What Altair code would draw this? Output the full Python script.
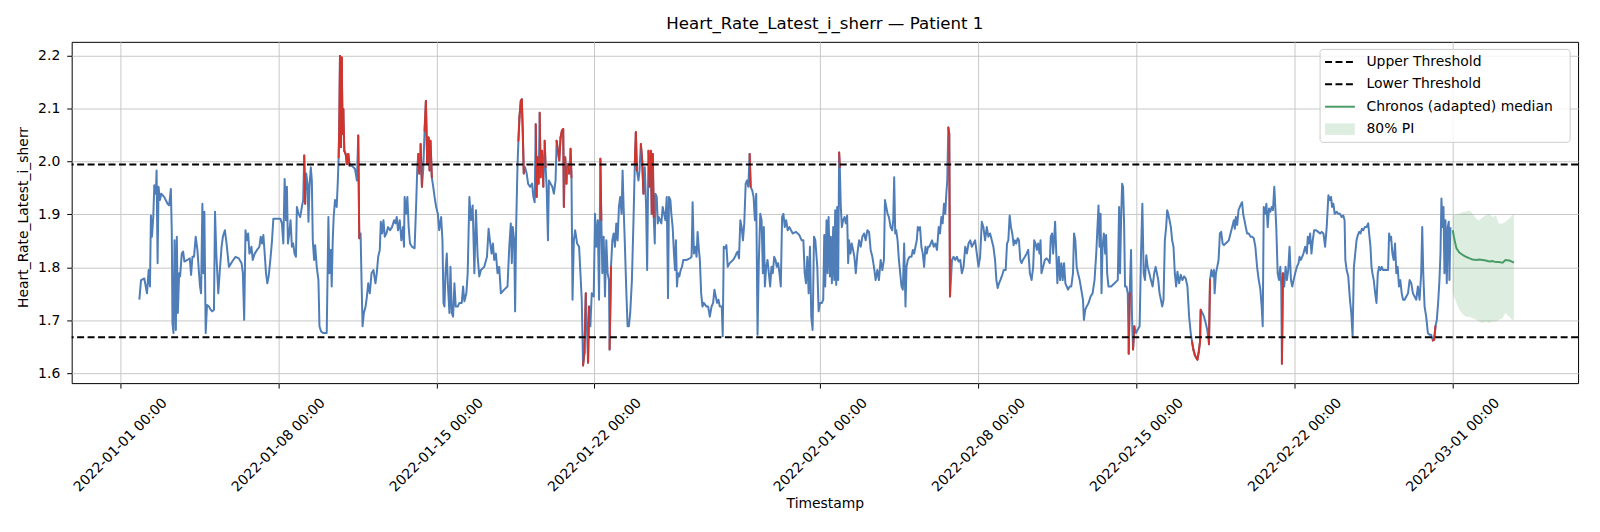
import altair as alt
import pandas as pd

FONT = "DejaVu Sans"
START = "2022-01-01 00:00:00"
title_text = "Heart_Rate_Latest_i_sherr \u2014 Patient 1"
x_title = "Timestamp"
y_title = "Heart_Rate_Latest_i_sherr"

# ---- observed series: hours since 2022-01-01 00:00 and values, read window by window ----
h_w1 = [20.4, 22.2, 25.7, 28.5, 30.3, 31.7, 32.7, 33.8, 35.2, 36.3, 38.0, 38.7, 39.8, 40.8, 42.3, 43.7, 46.8, 50.4, 52.1, 53.9, 54.9, 55.6, 56.7, 57.8, 59.2, 60.2, 61.3, 62.7, 63.7, 65.5, 66.9, 68.3, 71.5, 74.0, 75.4, 76.8, 78.5, 80.3, 82.1, 83.8, 84.9, 86.0, 87.4, 88.4, 89.5, 90.9, 92.3, 94.4, 96.2, 97.9, 99.7, 100.8, 102.2, 104.3, 105.7, 107.8, 109.2, 111.3, 113.1, 115.6, 119.1, 122.6, 126.1, 129.0, 130.4, 131.8, 133.2, 134.6, 136.0, 137.4, 139.5, 140.9, 143.0, 145.5, 148.0, 149.4, 150.8, 152.2, 153.6, 155.0, 156.4, 157.8, 159.6, 161.4, 162.8, 164.9]
v_w1 = [1.739, 1.776, 1.779, 1.751, 1.795, 1.764, 1.898, 1.858, 1.895, 1.955, 1.939, 1.983, 1.808, 1.952, 1.927, 1.939, 1.933, 1.920, 1.917, 1.948, 1.864, 1.695, 1.676, 1.851, 1.682, 1.858, 1.714, 1.789, 1.783, 1.826, 1.830, 1.811, 1.814, 1.817, 1.786, 1.820, 1.820, 1.858, 1.833, 1.789, 1.764, 1.751, 1.920, 1.789, 1.905, 1.676, 1.729, 1.726, 1.720, 1.717, 1.720, 1.905, 1.826, 1.751, 1.789, 1.839, 1.858, 1.870, 1.845, 1.801, 1.811, 1.820, 1.817, 1.808, 1.789, 1.701, 1.870, 1.851, 1.864, 1.826, 1.839, 1.814, 1.826, 1.833, 1.839, 1.858, 1.845, 1.861, 1.826, 1.789, 1.770, 1.783, 1.814, 1.851, 1.892, 1.892]

h_w2 = [168.4, 170.2, 171.9, 173.4, 174.8, 176.2, 177.2, 178.3, 179.7, 181.1, 182.5, 183.9, 185.3, 186.8, 187.8, 189.6, 191.3, 193.1, 194.5, 195.6, 196.6, 197.7, 199.1, 200.1, 201.2, 202.6, 203.7, 204.7, 206.1, 207.2, 208.9, 210.7, 211.8, 213.5, 216.0, 219.5, 221.3, 222.3, 223.8, 224.8, 225.9, 226.9, 228.3, 230.1, 231.2, 232.2, 232.9, 233.6, 234.7, 235.4, 236.4, 237.1, 238.2, 239.6, 241.0, 242.4, 243.8, 246.0, 249.5, 251.6, 253.0, 254.1, 255.5, 256.5, 257.6, 259.0, 260.8, 262.2, 263.6, 265.3, 267.1, 269.2, 271.3, 272.7, 274.2, 275.9, 277.0, 278.4, 279.8, 281.2, 282.9, 284.7, 286.8, 288.9, 291.1, 292.5, 293.9, 295.3, 297.1, 298.8, 300.6, 301.6, 302.3, 303.8, 305.2, 306.6, 308.0, 310.1, 312.9, 314.7, 315.7, 316.8, 317.9, 319.3, 320.7, 322.1, 323.5, 324.9, 326.3, 327.7, 328.8, 329.8, 331.2, 332.7, 334.1, 335.8, 337.6, 339.0, 341.1, 342.5, 343.6, 344.6, 345.7, 347.1, 348.2, 349.9, 351.0, 352.4, 353.8, 355.2, 356.6]
v_w2 = [1.892, 1.892, 1.883, 1.845, 1.967, 1.889, 1.952, 1.845, 1.864, 1.889, 1.839, 1.845, 1.826, 1.820, 1.914, 1.901, 1.895, 1.914, 1.927, 2.011, 1.920, 1.977, 1.958, 1.886, 1.952, 1.989, 1.964, 1.851, 1.814, 1.842, 1.801, 1.776, 1.689, 1.679, 1.676, 1.676, 1.895, 1.789, 1.833, 1.764, 1.851, 1.895, 1.927, 1.914, 1.958, 2.008, 2.074, 2.199, 2.027, 2.196, 2.052, 2.099, 2.020, 2.014, 1.995, 2.014, 1.992, 1.992, 1.986, 1.964, 2.049, 1.855, 1.864, 1.776, 1.689, 1.714, 1.726, 1.745, 1.770, 1.751, 1.789, 1.795, 1.770, 1.789, 1.820, 1.833, 1.886, 1.864, 1.889, 1.858, 1.864, 1.876, 1.870, 1.876, 1.889, 1.883, 1.895, 1.870, 1.889, 1.851, 1.876, 1.839, 1.933, 1.901, 1.933, 1.876, 1.845, 1.839, 1.836, 1.927, 1.986, 2.014, 1.977, 2.033, 1.952, 1.986, 2.058, 2.114, 1.995, 2.045, 1.983, 2.039, 1.970, 1.952, 1.933, 1.914, 1.901, 1.870, 1.895, 1.851, 1.733, 1.726, 1.789, 1.826, 1.770, 1.714, 1.801, 1.714, 1.707, 1.770, 1.726]

h_w3 = [358.7, 360.5, 363.0, 364.4, 365.8, 367.9, 369.3, 371.1, 372.8, 374.6, 376.4, 378.1, 379.9, 381.6, 383.4, 386.9, 389.8, 391.5, 392.9, 394.7, 396.1, 397.5, 399.3, 401.0, 402.8, 404.6, 408.1, 411.6, 413.4, 415.1, 416.2, 417.2, 418.7, 419.7, 420.8, 422.2, 423.2, 424.3, 425.7, 426.8, 427.8, 428.9, 430.3, 432.0, 433.5, 435.6, 437.7, 439.1, 440.5, 441.6, 442.6, 443.7, 444.7, 445.8, 446.8, 448.3, 449.7, 451.1, 452.1, 453.2, 454.6, 455.6, 457.4, 459.2, 460.9, 462.7, 463.8, 465.2, 466.6, 468.0, 469.4, 470.8, 471.5, 472.9, 474.3, 475.7, 477.2, 478.6, 479.6, 480.7, 482.1, 483.5, 485.6, 487.7, 489.1, 490.5, 491.9, 493.4, 494.8, 496.2, 497.2, 498.3, 499.7, 501.1, 503.2, 504.6, 506.0, 507.5, 508.9, 510.3, 511.3, 512.4, 513.8, 515.2, 516.6, 518.0, 519.4, 520.1, 521.6, 523.0, 524.4, 525.8, 527.2, 528.6, 530.0, 531.4, 532.8, 533.9, 535.0, 536.4, 537.8, 539.2, 540.6, 542.0, 543.8, 545.5, 546.9, 548.0]
v_w3 = [1.726, 1.733, 1.733, 1.764, 1.736, 1.751, 1.789, 1.933, 1.889, 1.917, 1.789, 1.908, 1.820, 1.783, 1.795, 1.801, 1.820, 1.873, 1.851, 1.826, 1.845, 1.814, 1.826, 1.789, 1.801, 1.751, 1.758, 1.764, 1.836, 1.883, 1.808, 1.876, 1.851, 1.717, 1.876, 1.989, 2.039, 2.083, 2.114, 2.117, 2.058, 1.977, 1.989, 1.977, 1.958, 1.952, 1.958, 1.933, 1.923, 2.070, 1.933, 2.008, 1.958, 2.092, 1.970, 2.020, 1.952, 2.039, 1.989, 1.952, 1.851, 1.964, 1.958, 1.952, 1.939, 1.964, 2.039, 2.020, 2.002, 2.045, 2.058, 2.061, 1.914, 2.008, 1.958, 1.995, 1.977, 2.024, 1.970, 1.739, 1.851, 1.870, 1.845, 1.839, 1.789, 1.739, 1.615, 1.640, 1.751, 1.676, 1.620, 1.726, 1.689, 1.751, 1.745, 1.901, 1.839, 1.889, 1.739, 2.005, 1.889, 1.789, 1.858, 1.745, 1.851, 1.789, 1.776, 1.645, 1.801, 1.851, 1.864, 1.839, 1.883, 1.851, 1.914, 1.933, 1.901, 1.983, 1.914, 1.839, 1.758, 1.689, 1.689, 1.714, 1.776, 1.889, 1.995, 2.055]

h_w4 = [549.1, 550.8, 551.9, 553.3, 554.7, 556.1, 557.5, 558.9, 560.0, 561.4, 562.5, 563.9, 564.9, 566.0, 567.0, 568.1, 568.8, 570.2, 571.3, 572.3, 573.7, 575.1, 576.5, 578.0, 579.4, 580.8, 582.2, 583.2, 584.7, 585.7, 587.1, 588.5, 589.6, 590.6, 591.7, 592.8, 594.2, 595.6, 597.0, 598.4, 601.9, 605.4, 607.2, 608.3, 609.7, 611.1, 612.5, 613.6, 615.0, 616.0, 617.4, 618.8, 620.2, 623.1, 624.8, 626.6, 628.4, 630.1, 631.5, 632.9, 634.3, 635.8, 637.2, 639.3, 640.3, 641.4, 642.8, 644.2, 645.6, 647.7, 651.3, 653.4, 654.8, 656.2, 657.6, 659.0, 660.4, 661.8, 663.2, 664.7, 666.1, 667.5, 668.9, 670.0, 671.7, 673.1, 674.5, 675.9, 677.3, 678.7, 680.2, 681.6, 683.0, 684.0, 685.1, 686.5, 687.9, 689.3, 690.7, 692.1, 693.5, 695.0, 696.4, 697.8, 699.2, 700.6, 702.0, 703.4, 704.8, 706.2, 707.7, 709.4, 711.2, 712.9, 714.7, 718.2, 721.7, 724.2, 726.0, 727.4, 728.8, 730.2, 731.6, 733.0, 734.4, 735.8, 737.3, 738.7]
v_w4 = [1.983, 1.964, 1.983, 2.033, 2.002, 1.939, 1.989, 1.914, 1.795, 2.020, 1.952, 2.020, 1.901, 2.014, 1.895, 1.845, 1.939, 1.933, 1.883, 1.895, 1.889, 1.883, 1.914, 1.901, 1.889, 1.933, 1.742, 1.933, 1.927, 1.901, 1.876, 1.826, 1.795, 1.851, 1.764, 1.789, 1.783, 1.795, 1.801, 1.814, 1.814, 1.817, 1.820, 1.923, 1.826, 1.839, 1.820, 1.867, 1.833, 1.814, 1.751, 1.726, 1.733, 1.726, 1.726, 1.707, 1.726, 1.733, 1.758, 1.745, 1.733, 1.739, 1.726, 1.726, 1.670, 1.839, 1.836, 1.842, 1.801, 1.808, 1.814, 1.820, 1.826, 1.830, 1.817, 1.889, 1.876, 1.851, 1.883, 1.958, 1.964, 1.952, 2.014, 1.952, 1.945, 1.933, 1.889, 1.939, 1.673, 1.814, 1.901, 1.889, 1.789, 1.876, 1.764, 1.801, 1.814, 1.789, 1.764, 1.801, 1.789, 1.820, 1.814, 1.801, 1.808, 1.789, 1.764, 1.895, 1.901, 1.876, 1.889, 1.870, 1.876, 1.870, 1.864, 1.867, 1.861, 1.851, 1.851, 1.789, 1.770, 1.820, 1.751, 1.839, 1.707, 1.682, 1.858, 1.851]

h_w5 = [740.8, 742.2, 743.6, 745.7, 747.1, 748.2, 749.2, 750.6, 751.7, 752.8, 754.2, 755.2, 756.3, 757.7, 758.8, 759.8, 760.9, 761.9, 763.0, 764.0, 764.7, 765.8, 766.9, 768.3, 769.7, 771.1, 772.5, 773.6, 774.6, 776.0, 777.4, 778.8, 780.2, 781.7, 783.4, 785.2, 787.0, 788.7, 790.5, 792.2, 794.0, 795.8, 797.5, 799.3, 801.0, 802.8, 804.6, 806.3, 808.1, 809.9, 811.6, 812.7, 814.1, 815.5, 816.9, 818.7, 820.4, 821.5, 822.5, 823.6, 824.7, 826.1, 827.5, 828.9, 830.3, 831.7, 833.1, 834.5, 835.6, 837.0, 838.8, 840.9, 842.3, 843.7, 845.1, 846.5, 847.6, 848.6, 850.0, 851.4, 852.9, 854.3, 855.7, 857.1, 858.5, 859.9, 861.3, 862.7, 864.5, 866.3, 868.0, 869.8, 871.2, 872.6, 874.0, 875.4, 876.8, 877.9, 878.9, 880.0, 881.0, 881.8, 882.8, 883.9, 885.6, 887.4, 889.2, 890.9, 892.7, 894.4, 896.2, 898.0, 899.7, 901.5, 903.3, 905.0, 906.8, 908.5, 910.3, 912.1, 913.8, 915.6, 917.3, 919.1, 920.9, 922.6, 924.4, 926.2, 927.9]
v_w5 = [1.801, 1.717, 1.733, 1.733, 1.739, 1.861, 1.764, 1.889, 1.789, 1.895, 1.783, 1.858, 1.770, 1.876, 1.776, 1.908, 1.767, 1.914, 1.776, 2.017, 1.989, 1.914, 1.876, 1.889, 1.895, 1.883, 1.898, 1.808, 1.851, 1.826, 1.845, 1.833, 1.820, 1.789, 1.826, 1.851, 1.839, 1.858, 1.864, 1.851, 1.870, 1.867, 1.833, 1.820, 1.801, 1.776, 1.795, 1.776, 1.814, 1.795, 1.814, 1.927, 1.914, 1.901, 1.895, 1.876, 1.870, 1.889, 1.970, 1.864, 1.870, 1.851, 1.814, 1.789, 1.764, 1.758, 1.845, 1.726, 1.801, 1.814, 1.820, 1.820, 1.833, 1.826, 1.839, 1.851, 1.876, 1.870, 1.876, 1.839, 1.826, 1.801, 1.839, 1.826, 1.839, 1.839, 1.845, 1.851, 1.839, 1.845, 1.833, 1.876, 1.864, 1.895, 1.883, 1.920, 1.901, 1.939, 1.964, 2.064, 2.052, 1.745, 1.776, 1.814, 1.820, 1.814, 1.820, 1.811, 1.814, 1.789, 1.801, 1.839, 1.826, 1.845, 1.851, 1.839, 1.845, 1.851, 1.826, 1.801, 1.820, 1.886, 1.876, 1.851, 1.876, 1.858, 1.864, 1.851, 1.839]

h_w6 = [929.7, 931.1, 932.5, 933.9, 935.3, 937.4, 938.9, 941.0, 942.4, 943.8, 945.2, 946.6, 948.0, 949.4, 950.8, 952.2, 953.7, 955.1, 956.5, 957.9, 959.3, 961.4, 963.2, 964.9, 966.7, 968.5, 970.2, 971.3, 972.7, 974.1, 975.5, 976.9, 978.0, 979.0, 980.8, 982.6, 984.3, 986.1, 987.8, 988.9, 990.3, 991.4, 992.4, 993.5, 994.5, 995.9, 997.4, 998.8, 1000.2, 1001.6, 1003.0, 1004.4, 1005.8, 1007.2, 1009.0, 1010.7, 1012.5, 1013.6, 1015.0, 1016.4, 1017.8, 1019.6, 1021.3, 1023.1, 1024.1, 1025.5, 1027.0, 1029.1, 1031.2, 1033.3, 1035.4, 1037.2, 1038.2, 1039.6, 1040.7, 1041.8, 1042.8, 1043.9, 1045.3, 1046.7, 1047.7, 1048.8, 1050.2, 1053.0, 1056.6, 1060.1, 1061.5, 1062.5, 1063.6, 1064.7, 1065.7, 1066.8, 1067.8, 1069.3, 1070.7, 1071.7, 1072.8, 1074.2, 1075.2, 1076.3, 1077.7, 1079.5, 1081.2, 1083.3, 1084.8, 1086.2, 1087.6, 1089.0, 1090.4, 1091.8, 1093.6, 1095.3, 1097.1, 1098.8, 1100.3, 1101.7, 1103.1, 1104.5, 1105.9, 1107.3, 1108.7, 1110.1, 1111.5, 1112.6, 1113.7, 1115.1, 1116.5, 1117.9, 1119.3]
v_w6 = [1.814, 1.776, 1.761, 1.770, 1.776, 1.786, 1.795, 1.795, 1.845, 1.851, 1.898, 1.876, 1.864, 1.842, 1.851, 1.845, 1.855, 1.851, 1.814, 1.808, 1.814, 1.820, 1.826, 1.833, 1.789, 1.776, 1.801, 1.851, 1.845, 1.833, 1.845, 1.826, 1.851, 1.789, 1.801, 1.814, 1.817, 1.814, 1.808, 1.858, 1.864, 1.826, 1.851, 1.886, 1.839, 1.770, 1.820, 1.776, 1.808, 1.776, 1.808, 1.770, 1.764, 1.758, 1.764, 1.764, 1.789, 1.864, 1.851, 1.801, 1.789, 1.776, 1.758, 1.739, 1.701, 1.720, 1.726, 1.733, 1.745, 1.751, 1.776, 1.826, 1.864, 1.917, 1.839, 1.901, 1.751, 1.839, 1.864, 1.826, 1.861, 1.789, 1.764, 1.764, 1.770, 1.776, 1.914, 1.789, 1.889, 1.958, 1.952, 1.883, 1.764, 1.764, 1.751, 1.637, 1.751, 1.833, 1.707, 1.645, 1.689, 1.676, 1.682, 1.689, 1.826, 1.920, 1.789, 1.776, 1.823, 1.801, 1.789, 1.776, 1.764, 1.789, 1.801, 1.789, 1.776, 1.751, 1.739, 1.726, 1.739, 1.851, 1.876, 1.908, 1.901, 1.889, 1.876, 1.851, 1.839]

h_w7 = [1120.7, 1122.1, 1123.5, 1125.3, 1127.0, 1128.8, 1130.6, 1132.3, 1134.1, 1135.9, 1137.6, 1139.0, 1140.4, 1141.9, 1143.3, 1144.7, 1146.1, 1147.5, 1148.2, 1150.0, 1151.7, 1153.5, 1155.2, 1157.0, 1158.1, 1159.5, 1160.9, 1162.3, 1163.0, 1164.4, 1165.8, 1167.2, 1168.6, 1170.0, 1171.5, 1172.9, 1174.6, 1176.4, 1178.1, 1179.9, 1181.7, 1183.4, 1184.5, 1185.5, 1187.0, 1188.4, 1189.8, 1191.2, 1192.2, 1193.3, 1194.7, 1196.1, 1197.5, 1199.3, 1201.1, 1202.8, 1204.6, 1206.3, 1208.1, 1209.9, 1211.6, 1213.0, 1214.1, 1215.2, 1216.6, 1218.0, 1219.4, 1220.8, 1222.2, 1223.6, 1225.0, 1226.4, 1227.5, 1228.5, 1230.0, 1231.4, 1232.8, 1233.8, 1234.5, 1235.6, 1237.0, 1238.4, 1239.8, 1241.2, 1242.6, 1244.1, 1245.5, 1246.9, 1248.6, 1250.4, 1252.2, 1253.2, 1254.6, 1256.0, 1257.4, 1259.2, 1261.0, 1262.0, 1263.1, 1264.5, 1265.9, 1267.3, 1268.7, 1270.8, 1273.0, 1275.1, 1276.8, 1278.6, 1280.4, 1282.1, 1283.9, 1285.6, 1286.7, 1287.8, 1289.2, 1290.6, 1292.7, 1294.4, 1296.2, 1298.0, 1299.7, 1301.1, 1301.9, 1303.3, 1305.0, 1306.8, 1308.2, 1309.6]
v_w7 = [1.789, 1.764, 1.792, 1.770, 1.786, 1.776, 1.783, 1.779, 1.764, 1.707, 1.676, 1.660, 1.645, 1.635, 1.630, 1.626, 1.640, 1.660, 1.720, 1.714, 1.707, 1.695, 1.682, 1.655, 1.776, 1.795, 1.783, 1.795, 1.751, 1.789, 1.801, 1.814, 1.864, 1.867, 1.845, 1.842, 1.845, 1.848, 1.851, 1.864, 1.876, 1.889, 1.873, 1.895, 1.880, 1.908, 1.914, 1.920, 1.923, 1.901, 1.889, 1.876, 1.864, 1.864, 1.858, 1.858, 1.855, 1.839, 1.801, 1.776, 1.758, 1.726, 1.689, 1.914, 1.901, 1.920, 1.876, 1.911, 1.905, 1.914, 1.908, 1.952, 1.914, 1.876, 1.789, 1.776, 1.801, 1.764, 1.618, 1.789, 1.764, 1.801, 1.776, 1.795, 1.839, 1.776, 1.764, 1.776, 1.789, 1.801, 1.808, 1.820, 1.814, 1.820, 1.826, 1.839, 1.826, 1.858, 1.845, 1.864, 1.826, 1.851, 1.870, 1.870, 1.867, 1.864, 1.867, 1.864, 1.839, 1.876, 1.936, 1.927, 1.933, 1.914, 1.920, 1.901, 1.905, 1.901, 1.901, 1.895, 1.898, 1.889, 1.814, 1.795, 1.783, 1.739, 1.714, 1.670]

h_w8 = [1311.0, 1312.4, 1313.8, 1315.2, 1316.6, 1318.0, 1319.5, 1320.9, 1322.6, 1324.4, 1326.2, 1327.2, 1328.6, 1329.7, 1330.7, 1332.1, 1333.6, 1335.0, 1336.4, 1337.8, 1339.2, 1340.6, 1342.0, 1343.8, 1345.5, 1347.3, 1348.4, 1349.4, 1350.5, 1351.9, 1353.3, 1354.7, 1356.1, 1357.5, 1358.9, 1360.3, 1361.8, 1363.2, 1364.9, 1366.7, 1368.5, 1370.2, 1372.0, 1373.7, 1375.5, 1377.3, 1379.0, 1380.8, 1382.5, 1383.6, 1384.7, 1386.1, 1387.8, 1389.6, 1391.4, 1393.1, 1394.9, 1396.3, 1397.7, 1399.1, 1400.5, 1401.9, 1403.0, 1404.0, 1405.1, 1406.2, 1407.2, 1408.3, 1409.7, 1410.7, 1411.8, 1412.5, 1413.6]
v_w8 = [1.801, 1.826, 1.851, 1.861, 1.867, 1.864, 1.873, 1.870, 1.876, 1.876, 1.883, 1.864, 1.839, 1.801, 1.789, 1.776, 1.751, 1.733, 1.789, 1.801, 1.795, 1.801, 1.795, 1.795, 1.795, 1.795, 1.864, 1.851, 1.858, 1.826, 1.814, 1.845, 1.789, 1.801, 1.764, 1.776, 1.751, 1.739, 1.739, 1.745, 1.751, 1.776, 1.770, 1.751, 1.745, 1.739, 1.764, 1.739, 1.789, 1.876, 1.789, 1.726, 1.707, 1.676, 1.673, 1.673, 1.662, 1.664, 1.689, 1.701, 1.733, 1.776, 1.826, 1.930, 1.876, 1.914, 1.789, 1.889, 1.770, 1.876, 1.886, 1.776, 1.876]

# ---- forecast (hours since start) ----
fc_hours = [1416, 1418, 1420, 1423, 1427, 1430, 1434, 1437, 1441, 1444, 1448, 1451, 1455, 1458, 1462, 1465, 1469, 1472, 1476, 1479, 1481]
fc_median = [1.870, 1.851, 1.836, 1.828, 1.823, 1.820, 1.817, 1.815, 1.814, 1.815, 1.814, 1.813, 1.811, 1.812, 1.810, 1.810, 1.809, 1.814, 1.813, 1.811, 1.809]
fc_upper = [1.898, 1.899, 1.900, 1.901, 1.905, 1.905, 1.908, 1.901, 1.892, 1.889, 1.895, 1.898, 1.901, 1.895, 1.898, 1.883, 1.883, 1.886, 1.892, 1.898, 1.901]
fc_lower = [1.751, 1.742, 1.733, 1.720, 1.711, 1.707, 1.707, 1.704, 1.701, 1.698, 1.695, 1.698, 1.695, 1.698, 1.698, 1.701, 1.704, 1.714, 1.707, 1.701, 1.701]

upper_threshold = 1.994
lower_threshold = 1.668

tick_dates = ["2022-01-01", "2022-01-08", "2022-01-15", "2022-01-22", "2022-02-01",
              "2022-02-08", "2022-02-15", "2022-02-22", "2022-03-01"]
y_ticks = [1.6, 1.7, 1.8, 1.9, 2.0, 2.1, 2.2]
legend_labels = ["Upper Threshold", "Lower Threshold", "Chronos (adapted) median", "80% PI"]

BLUE = "#4f7db7"
RED = "#d0342c"
GREEN = "#4a9c66"
PI_GREEN = "#55a868"
GRID = "#c8c8c8"
LW = 2.0

# ---- build tables ----
t0 = pd.Timestamp(START)
pairs = []
for hs, vs in [(h_w1, v_w1), (h_w2, v_w2), (h_w3, v_w3), (h_w4, v_w4),
               (h_w5, v_w5), (h_w6, v_w6), (h_w7, v_w7), (h_w8, v_w8)]:
    pairs.extend(zip(hs, vs))
df = pd.DataFrame(pairs, columns=["h", "v"]).sort_values("h").reset_index(drop=True)
df["t"] = t0 + pd.to_timedelta(df["h"], unit="h")
df["t2"] = df["t"].shift(-1)
df["v2"] = df["v"].shift(-1)
seg = df[df["t2"].notna() & ((df["v"] > upper_threshold) | (df["v"] < lower_threshold))][["t", "t2", "v", "v2"]]
line_df = df[["t", "v"]]

fc = pd.DataFrame({
    "t": t0 + pd.to_timedelta(pd.Series(fc_hours, dtype=float), unit="h"),
    "med": fc_median, "lo": fc_lower, "hi": fc_upper,
})
thr = pd.DataFrame({"val": [upper_threshold, lower_threshold]})
one = pd.DataFrame({"k": [0]})

xs = alt.Scale(domain=[alt.DateTime(year=2021, month=12, date=29, hours=20, minutes=30),
                       alt.DateTime(year=2022, month=3, date=6, hours=13, minutes=12)])
ys = alt.Scale(domain=[1.5816, 2.2256], nice=False, zero=False)

tick_vals = []
for d in tick_dates:
    ts = pd.Timestamp(d)
    tick_vals.append(alt.DateTime(year=ts.year, month=ts.month, date=ts.day))

x_axis = alt.Axis(
    values=tick_vals, format="%Y-%m-%d %H:%M", formatType="time",
    labelAngle=315, labelAlign="center", labelBaseline="middle", labelPadding=57,
    labelFlush=False, labelOverlap=False, labelBound=False,
    labelFont=FONT, labelFontSize=14, labelColor="black",
    tickSize=5, tickColor="black", tickWidth=1,
    grid=True, gridColor=GRID, gridWidth=1, domain=False,
    title=x_title, titleFont=FONT, titleFontSize=14, titleFontWeight="normal",
    titleColor="black", titleY=121, titleBaseline="middle",
)
y_axis = alt.Axis(
    values=y_ticks, format=".1f",
    labelFont=FONT, labelFontSize=14, labelColor="black", labelPadding=7,
    tickSize=5, tickColor="black", tickWidth=1,
    grid=True, gridColor=GRID, gridWidth=1, domain=False,
    title=y_title, titleFont=FONT, titleFontSize=14, titleFontWeight="normal",
    titleColor="black", titleX=-48, titleY=176, titleAngle=270, titleBaseline="middle",
)

X = lambda f: alt.X(f, scale=xs, axis=x_axis)
Y = lambda f: alt.Y(f, scale=ys, axis=y_axis)

blue_line = alt.Chart(line_df).mark_line(color=BLUE, strokeWidth=LW, strokeJoin="round").encode(
    x=X("t:T"), y=Y("v:Q"),
)
red_segs = alt.Chart(seg).mark_rule(color=RED, strokeWidth=LW, strokeCap="round").encode(
    x=X("t:T"), x2="t2:T", y=Y("v:Q"), y2="v2:Q",
)
thresholds = alt.Chart(thr).mark_rule(color="black", strokeWidth=2, strokeDash=[7, 3.5]).encode(
    y=Y("val:Q"),
)
band = alt.Chart(fc).mark_area(color=PI_GREEN, opacity=0.2).encode(
    x=X("t:T"), y=Y("lo:Q"), y2="hi:Q",
)
median = alt.Chart(fc).mark_line(color=GREEN, strokeWidth=LW).encode(
    x=X("t:T"), y=Y("med:Q"),
)

# ---- title as a text mark centred over the plot ----
W, H = 1514, 343
title_mark = alt.Chart(one).mark_text(text=title_text, align="center", baseline="middle", font=FONT,
                                      fontSize=16.7, color="black").encode(
    x=alt.value(W / 2), y=alt.value(-18.2))

# ---- legend (upper right, drawn inside the plot) ----
LX0, LX1, LY0, LY1 = 1254.7, 1506, 7.6, 101
SX0, SX1, TX = 1259.7, 1289.7, 1301.3
ROWS = [20.2, 42.7, 65.2, 87.7]
leg = [
    alt.Chart(one).mark_rect(fill="white", fillOpacity=0.8, stroke="#cccccc", strokeWidth=1,
                             cornerRadius=3).encode(
        x=alt.value(LX0), x2=alt.value(LX1), y=alt.value(LY0), y2=alt.value(LY1)),
    alt.Chart(one).mark_rule(color="black", strokeWidth=2, strokeDash=[7, 3.5]).encode(
        x=alt.value(SX0), x2=alt.value(SX1), y=alt.value(ROWS[0])),
    alt.Chart(one).mark_rule(color="black", strokeWidth=2, strokeDash=[7, 3.5]).encode(
        x=alt.value(SX0), x2=alt.value(SX1), y=alt.value(ROWS[1])),
    alt.Chart(one).mark_rule(color=GREEN, strokeWidth=2).encode(
        x=alt.value(SX0), x2=alt.value(SX1), y=alt.value(ROWS[2])),
    alt.Chart(one).mark_rect(color=PI_GREEN, opacity=0.2).encode(
        x=alt.value(SX0), x2=alt.value(SX1), y=alt.value(ROWS[3] - 5.8), y2=alt.value(ROWS[3] + 5.8)),
]
for lab, ry in zip(legend_labels, ROWS):
    leg.append(alt.Chart(one).mark_text(text=lab, align="left", baseline="middle", font=FONT,
                                        fontSize=14, color="black").encode(
        x=alt.value(TX), y=alt.value(ry)))

chart = alt.layer(blue_line, red_segs, thresholds, band, median, title_mark, *leg).properties(
    width=W, height=H,
    autosize=alt.AutoSizeParams(type="none"),
    padding={"left": 64, "top": 32.7, "right": 14, "bottom": 148},
).configure(font=FONT).configure_view(stroke="black", strokeWidth=1)

chart.save("out.html", embed_options={"renderer": "svg", "actions": False})
